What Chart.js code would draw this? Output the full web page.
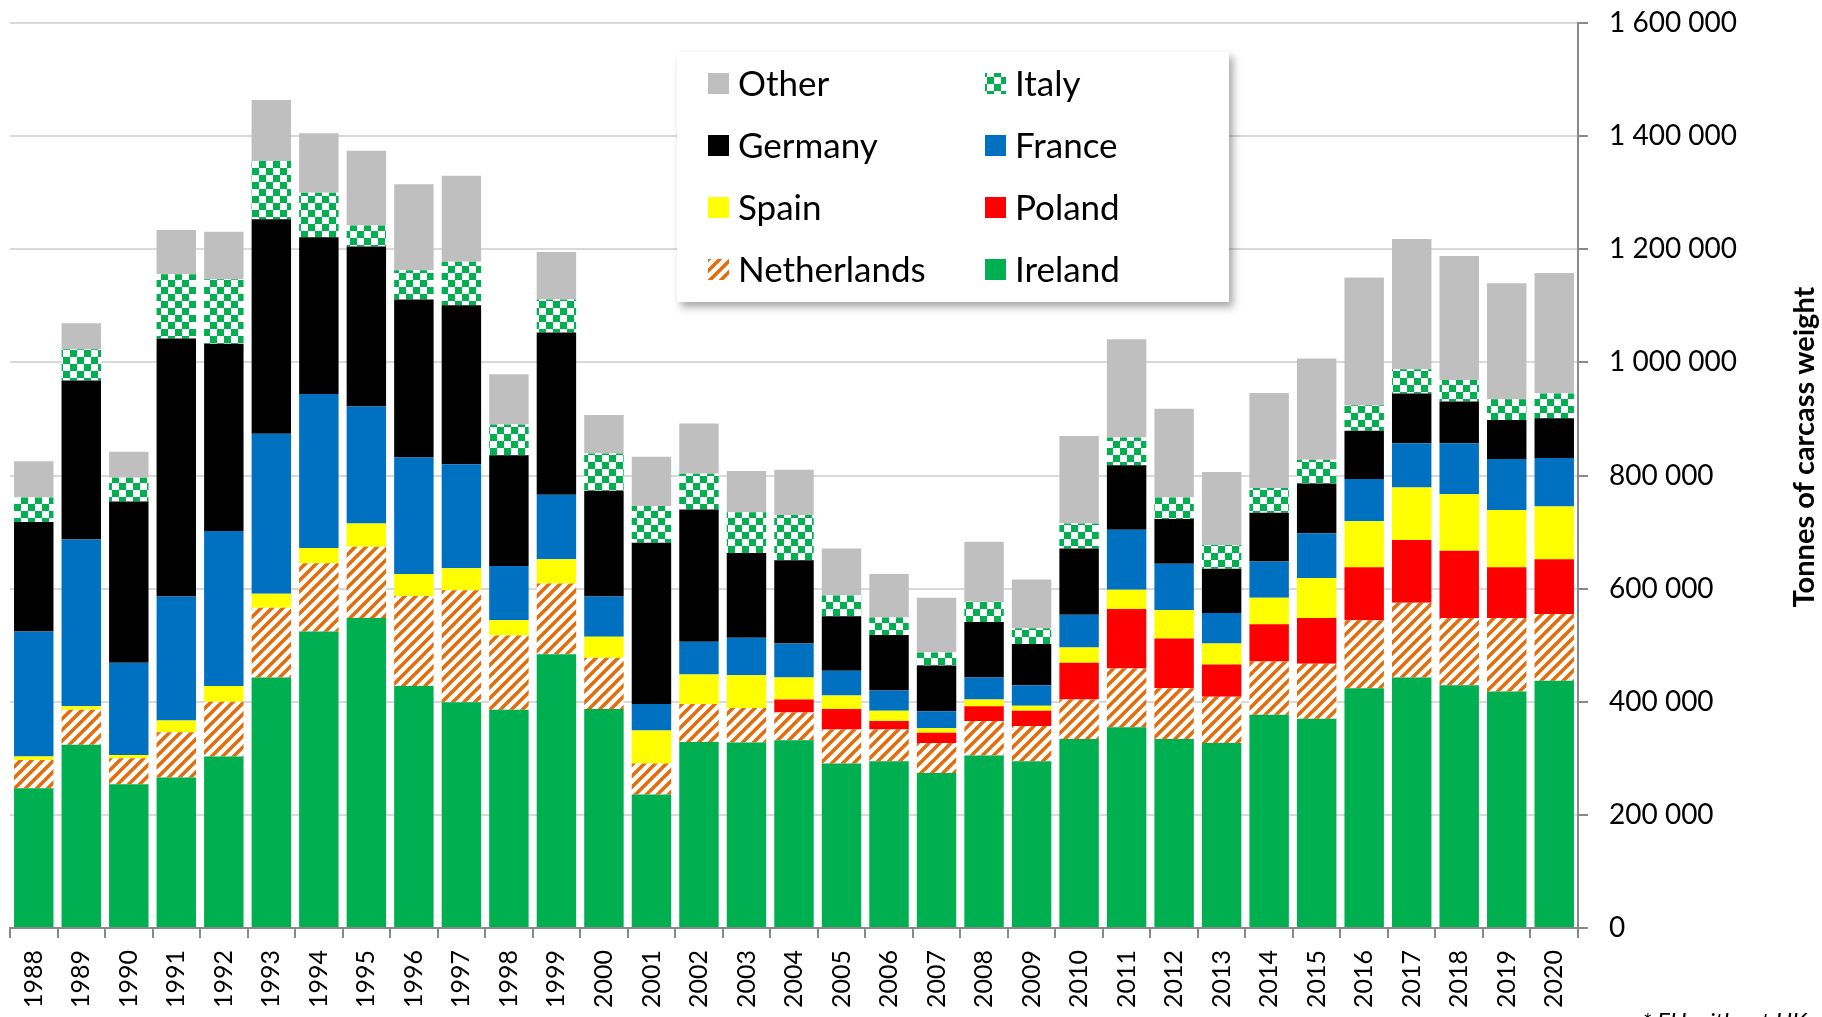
<!DOCTYPE html>
<html>
<head>
<meta charset="utf-8">
<style>
  body { margin: 0; background: #fff; }
  canvas { display: block; }
</style>
<script src="https://cdn.jsdelivr.net/npm/chart.js@4"></script>
</head>
<body>
<canvas class="my-chart" width="1822" height="1017"></canvas>
<script>
const years = ["1988", "1989", "1990", "1991", "1992", "1993", "1994", "1995", "1996", "1997", "1998", "1999", "2000",
  "2001", "2002", "2003", "2004", "2005", "2006", "2007", "2008", "2009", "2010", "2011", "2012", "2013", "2014",
  "2015", "2016", "2017", "2018", "2019", "2020"];

// tonnes of carcass weight
const ireland = [247000, 324000, 254000, 266000, 303000, 443000, 524000, 548000, 428000, 399000, 386000, 484000, 387000,
  236000, 329000, 328000, 332000, 291000, 295000, 274000, 305000, 295000, 334000, 355000, 334000, 327000, 377000,
  370000, 424000, 443000, 429000, 418000, 437000];
const netherlands = [50000, 62000, 46000, 80000, 97000, 123000, 121000, 126000, 159000, 198000, 131000, 125000, 91000,
  55000, 67000, 61000, 49000, 60000, 56000, 53000, 61000, 62000, 70000, 104000, 90000, 82000, 94000,
  97000, 120000, 132000, 119000, 130000, 118000];
const poland = [0, 0, 0, 0, 0, 0, 0, 0, 0, 0, 0, 0, 0,
  0, 0, 0, 23000, 36000, 15000, 18000, 26000, 27000, 65000, 105000, 88000, 57000, 66000,
  81000, 94000, 111000, 119000, 90000, 97000];
const spain = [6000, 6000, 6000, 21000, 28000, 25000, 27000, 41000, 39000, 39000, 27000, 43000, 37000,
  58000, 52000, 58000, 39000, 24000, 18000, 8000, 12000, 9000, 27000, 34000, 50000, 37000, 47000,
  71000, 81000, 93000, 100000, 101000, 93000];
const france = [221000, 295000, 163000, 219000, 274000, 283000, 272000, 207000, 206000, 184000, 96000, 114000, 71000,
  47000, 58000, 66000, 60000, 44000, 36000, 30000, 39000, 36000, 58000, 106000, 82000, 54000, 64000,
  79000, 75000, 78000, 90000, 90000, 86000];
const germany = [194000, 281000, 285000, 456000, 331000, 379000, 277000, 283000, 279000, 281000, 196000, 287000, 187000,
  285000, 234000, 150000, 147000, 96000, 98000, 81000, 98000, 73000, 117000, 114000, 79000, 78000, 86000,
  88000, 85000, 88000, 74000, 69000, 70000];
const italy = [43000, 55000, 42000, 114000, 114000, 103000, 79000, 37000, 52000, 77000, 54000, 58000, 66000,
  65000, 63000, 72000, 80000, 37000, 31000, 23000, 36000, 28000, 44000, 49000, 38000, 42000, 44000,
  42000, 45000, 43000, 38000, 37000, 44000];
const other = [64000, 46000, 46000, 78000, 84000, 108000, 105000, 132000, 152000, 152000, 89000, 84000, 68000,
  87000, 89000, 73000, 80000, 83000, 77000, 97000, 106000, 86000, 155000, 174000, 157000, 129000, 168000,
  179000, 226000, 230000, 219000, 205000, 213000];

const yTicks = [0, 200000, 400000, 600000, 800000, 1000000, 1200000, 1400000, 1600000];

const FONT = "Lato, 'Open Sans', sans-serif";

// checkerboard for Italy
function checkPattern() {
  var c = document.createElement("canvas");
  c.width = 14;
  c.height = 14;
  var g = c.getContext("2d");
  g.fillStyle = "#ffffff";
  g.fillRect(0, 0, 14, 14);
  g.fillStyle = "#00B050";
  g.fillRect(0, 0, 7, 7);
  g.fillRect(7, 7, 7, 7);
  return g.createPattern(c, "repeat");
}

// orange diagonal hatch for the Netherlands
function hatchPattern() {
  var s = 11;
  var c = document.createElement("canvas");
  c.width = s;
  c.height = s;
  var g = c.getContext("2d");
  g.fillStyle = "#ffffff";
  g.fillRect(0, 0, s, s);
  g.strokeStyle = "#E46C0A";
  g.lineWidth = 3.5;
  g.beginPath();
  g.moveTo(-2, s + 2);
  g.lineTo(s + 2, -2);
  g.moveTo(-2, 2);
  g.lineTo(2, -2);
  g.moveTo(s - 2, s + 2);
  g.lineTo(s + 2, s - 2);
  g.stroke();
  return g.createPattern(c, "repeat");
}

const series = [
  { label: "Ireland", data: ireland, backgroundColor: "#00B050" },
  { label: "Netherlands", data: netherlands, backgroundColor: hatchPattern() },
  { label: "Poland", data: poland, backgroundColor: "#FF0000" },
  { label: "Spain", data: spain, backgroundColor: "#FFFF00" },
  { label: "France", data: france, backgroundColor: "#0070C0" },
  { label: "Germany", data: germany, backgroundColor: "#000000" },
  { label: "Italy", data: italy, backgroundColor: checkPattern() },
  { label: "Other", data: other, backgroundColor: "#BFBFBF" }
];

const myChart = document.querySelector(".my-chart");

new Chart(myChart, {
  type: "bar",
  data: {
    labels: years,
    datasets: series.map(function (s) {
      return {
        label: s.label,
        data: s.data,
        backgroundColor: s.backgroundColor,
        borderWidth: 0,
        categoryPercentage: 1,
        barPercentage: 0.83
      };
    })
  },
  options: {
    responsive: false,
    animation: false,
    devicePixelRatio: 1,
    layout: { padding: { left: 10, top: 23, right: 0, bottom: 0 } },
    plugins: {
      legend: { display: false },
      tooltip: { enabled: false }
    },
    scales: {
      x: {
        stacked: true,
        offset: true,
        border: { color: "#898989", width: 2 },
        grid: {
          offset: true,
          drawOnChartArea: false,
          color: "#898989",
          tickColor: "#898989",
          tickLength: 10,
          lineWidth: 2
        },
        ticks: {
          autoSkip: false,
          maxRotation: 90,
          minRotation: 90,
          padding: 12,
          color: "#000000",
          font: { family: FONT, size: 25 }
        },
        afterFit: function (scale) {
          scale.height = 89;
        }
      },
      y: {
        stacked: true,
        position: "right",
        min: 0,
        max: 1600000,
        border: { color: "#898989", width: 2 },
        grid: {
          color: "#D9D9D9",
          tickColor: "#898989",
          tickLength: 10,
          lineWidth: 2
        },
        afterBuildTicks: function (scale) {
          scale.ticks = yTicks.map(function (v) { return { value: v }; });
        },
        ticks: {
          padding: 21,
          color: "#000000",
          font: { family: FONT, size: 28 },
          callback: function (v) {
            return String(v).replace(/\B(?=(\d{3})+(?!\d))/g, " ");
          }
        },
        afterFit: function (scale) {
          scale.width = 244;
          scale.paddingTop = 0;
          scale.paddingBottom = 0;
        }
      }
    }
  },
  plugins: [
    {
      id: "extras",
      afterDraw: function (chart) {
        var ctx = chart.ctx;
        ctx.save();

        // legend box
        var bx = 677, by = 52, bw = 552, bh = 250;
        ctx.shadowColor = "rgba(0,0,0,0.35)";
        ctx.shadowBlur = 8;
        ctx.shadowOffsetX = 4;
        ctx.shadowOffsetY = 5;
        ctx.fillStyle = "#ffffff";
        ctx.fillRect(bx, by, bw, bh);
        ctx.shadowColor = "transparent";

        var items = chart.data.datasets.slice().reverse();
        var colMarker = [708, 985];
        var rowY = [84, 146, 208, 270];
        ctx.font = "35px " + FONT;
        ctx.textBaseline = "middle";
        ctx.textAlign = "left";
        items.forEach(function (ds, i) {
          var col = i % 2, row = Math.floor(i / 2);
          var mx = colMarker[col], my = rowY[row];
          ctx.fillStyle = ds.backgroundColor;
          ctx.fillRect(mx, my - 11, 21, 21);
          ctx.fillStyle = "#000000";
          ctx.fillText(ds.label, mx + 30, my + 1);
        });

        // axis title, reading bottom to top
        ctx.translate(1805, 447);
        ctx.rotate(-Math.PI / 2);
        ctx.font = "bold 29px " + FONT;
        ctx.textAlign = "center";
        ctx.fillStyle = "#000000";
        ctx.fillText("Tonnes of carcass weight", 0, 0);
        ctx.restore();

        // footnote
        ctx.save();
        ctx.font = "italic 24px " + FONT;
        ctx.fillStyle = "#000000";
        ctx.textAlign = "left";
        ctx.textBaseline = "alphabetic";
        ctx.fillText("* EU without UK", 1642, 1030);
        ctx.restore();
      }
    }
  ]
});
</script>
</body>
</html>
